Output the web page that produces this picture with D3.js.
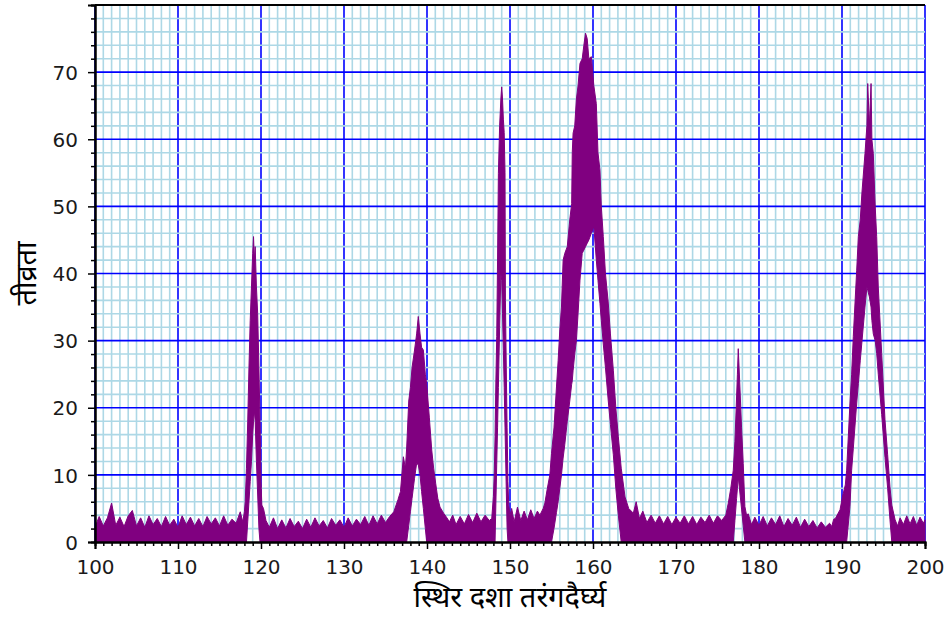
<!DOCTYPE html>
<html>
<head>
<meta charset="utf-8">
<script src="https://cdn.jsdelivr.net/npm/d3@7"></script>
<style>
  body { margin: 0; background: #fff; }
</style>
</head>
<body>
<div id="chart"></div>
<script>
(function(){
  'use strict';

  //Axis ticks and titles
  const xTicks = [100, 110, 120, 130, 140, 150, 160, 170, 180, 190, 200];
  const yTicks = [0, 10, 20, 30, 40, 50, 60, 70];
  const xTitle = "स्थिर दशा तरंगदैर्घ्य";
  const yTitle = "तीव्रता";

  //Baseline noise between the peaks - [wavelength, upper]
  const base1 = [[100,2.2],[100.5,3.8],[101,2.4],[101.5,3.6],[102,5.8],[102.5,2.5],[103,3.7],[103.5,2.3],[104,3.9],[104.5,4.7],[105,2.4],[105.5,3.6],[106,2.2],[106.5,3.9],[107,2.6],[107.5,3.5],[108,2.3],[108.5,3.8],[109,2.5],[109.5,3.4],[110,2.2],[110.5,3.9],[111,2.6],[111.5,3.7],[112,2.4],[112.5,3.5],[113,2.3],[113.5,3.8],[114,2.7],[114.5,3.6],[115,2.4],[115.5,3.9],[116,2.5],[116.5,3.4],[117,2.8],[117.5,4.5],[117.8,3.0]];
  const base2 = [[120.3,5.0],[120.6,3.2],[121,2.2],[121.5,3.6],[122,2.0],[122.5,3.3],[123,2.1],[123.5,3.5],[124,2.3],[124.5,3.1],[125,2.0],[125.5,3.4],[126,2.2],[126.5,3.6],[127,2.4],[127.5,3.2],[128,2.1],[128.5,3.5],[129,2.5],[129.5,3.3],[130,2.2],[130.5,3.6],[131,2.4],[131.5,3.4],[132,2.6],[132.5,3.8],[133,2.5],[133.5,3.9],[134,2.7],[134.5,4.0],[135,2.9]];
  const base3 = [[142.7,3.0],[143.1,4.0],[143.5,2.6],[144,3.8],[144.5,2.7],[145,4.1],[145.5,2.9],[146,4.3],[146.5,3.0],[147,4.0],[147.5,3.2]];
  const base4 = [[150.2,5.0],[150.5,3.0],[150.9,5.2],[151.3,3.2],[151.7,4.6],[152.1,3.3],[152.5,4.8],[152.9,3.5],[153.3,4.6]];
  const base5 = [[165.2,6.0],[165.6,3.5],[166,4.6],[166.5,2.9],[167,4.0],[167.5,2.8],[168,3.9],[168.5,2.7],[169,3.8],[169.5,2.6],[170,3.7],[170.5,2.8],[171,3.9],[171.5,2.7],[172,3.8],[172.5,2.6],[173,3.7],[173.5,2.9],[174,4.0],[174.5,2.8],[175,3.9],[175.5,3.2]];
  const base6 = [[178.7,4.2],[179.1,2.6],[179.5,3.7],[180,2.5],[180.5,3.8],[181,2.4],[181.5,3.6],[182,2.6],[182.5,3.9],[183,2.3],[183.5,3.5],[184,2.5],[184.5,3.7],[185,2.2],[185.5,3.4],[186,2.3],[186.5,3.2],[187,2.1],[187.5,3.0],[188,2.2]];
  const base7 = [[196.7,2.4],[197,3.6],[197.4,2.6],[197.8,3.9],[198.2,2.7],[198.6,3.8],[199,2.5],[199.4,3.7],[199.8,2.8],[200,3.3]];

  //Peaks - [wavelength, upper, lower] (lower = bottom of the noise band)
  const peak119 = [[118.0,4.5,0],[118.1,6,0],[118.25,11,0],[118.4,18,3],[118.55,26,6],[118.7,33,9],[118.85,38,12],[119.0,43,16],[119.1,45.5,18],[119.2,42,19.5],[119.3,44,18],[119.45,38,12],[119.6,34,7],[119.75,26,2],[119.88,18,0],[120.0,9,0],[120.1,5.5,0]];
  const peak139 = [[135.5,3.8,0],[136.0,4.5,0],[136.5,6.3,0],[136.8,7.5,0],[137.15,12.7,0],[137.4,11,0],[137.55,14,0],[137.8,21,2.5],[138.0,23,4.5],[138.2,26,6.5],[138.5,28.6,9.5],[138.75,31,11.7],[138.95,33.6,11.5],[139.16,31,10],[139.35,29,7.5],[139.56,28.6,5],[139.8,25,2],[139.96,23.6,0],[140.28,18.6,0],[140.57,13.7,0],[140.8,11,0],[141.05,8.7,0],[141.3,6.5,0],[141.57,5.2,0],[142.0,4.3,0],[142.4,3.6,0]];
  const peak149 = [[147.8,3.5,0],[148.0,6.8,0],[148.1,10,0],[148.2,15.7,0],[148.3,24,5.8],[148.4,30.6,11.6],[148.5,42,17],[148.6,54.9,23],[148.75,62,32],[148.9,66,40],[149.0,67.8,39],[149.1,66,34],[149.2,63,28.5],[149.3,61,23],[149.4,55,17],[149.45,36,14],[149.55,26,8],[149.65,17,2],[149.75,9,0],[149.85,5.5,0],[150.0,4,0]];
  const peak160 = [[153.6,4,0],[154.0,5,0],[154.2,5.8,0],[154.5,8,0],[154.8,10,0],[155.0,13.2,0],[155.3,17,2],[155.6,23.1,4.4],[155.8,27,6],[156.0,31.6,8],[156.2,35,10],[156.4,42,12.5],[156.6,43,14.5],[156.9,44,18],[157.2,48,21],[157.43,50.4,23.5],[157.5,58,24],[157.6,60.9,25.5],[157.8,62,28],[158.0,66,30],[158.2,68,34],[158.43,71.3,39],[158.7,72,43],[158.9,74,43.5],[159.1,75.8,44],[159.3,75,44.5],[159.5,72,45],[159.8,72.3,46],[160.1,68,47],[160.4,65.3,42],[160.6,58,39],[160.84,55.4,35.5],[161.0,50,33],[161.24,45.5,29.5],[161.5,40,26],[161.84,35.6,21],[162.1,31,17.5],[162.45,25.6,13],[162.75,20,8],[163.05,15.7,4],[163.4,11,0],[163.86,6.7,0],[164.3,5,0],[164.86,4.3,0]];
  const peak177 = [[176.0,4,0],[176.3,5.8,0],[176.6,8,0],[176.9,10.7,0],[177.1,15,3.2],[177.3,21.6,6.5],[177.4,25,8],[177.5,28.8,9.7],[177.6,26,8.5],[177.7,23.1,7.3],[177.9,17,4.9],[178.1,11.7,2.4],[178.3,5.3,0],[178.5,4,0]];
  const peak193 = [[188.5,2.8,0],[188.76,2.3,0],[189.0,3.4,0],[189.2,3.5,0],[189.5,4.2,0],[189.76,4.8,0],[190.1,7,0],[190.4,8.5,0],[190.56,10.7,0],[190.96,20.7,5.3],[191.16,25,10.7],[191.36,30.6,13.9],[191.77,40.5,20.7],[191.97,45.5,23.6],[192.2,48,27],[192.4,52,29.8],[192.77,57.9,35],[193.0,62,38],[193.1,68.3,37.5],[193.3,62,36.5],[193.5,68.3,35],[193.6,60,33],[193.77,57.9,31],[194.0,50,30],[194.18,45.5,28.1],[194.37,38,25],[194.78,28.1,19],[195.18,18.2,12.6],[195.5,13,8],[195.78,8.2,3.3],[196.0,5.5,0],[196.4,3.3,0]];

  //Set dimensions and margins
  let margin = {top: 5, right: 24, bottom: 79, left: 95};
  let width = 949 - margin.left - margin.right;
  let height = 621 - margin.top - margin.bottom;

  let svg = d3.select("#chart").append("svg")
    .attr("width", 949)
    .attr("height", 621)
    .style("display", "block");

  let g = svg.append("g")
    .attr("transform", "translate(" + margin.left + "," + margin.top + ")");

  let x = d3.scaleLinear().domain([100, 200]).range([0, width]);
  let y = d3.scaleLinear().domain([0, 80]).range([height, 0]);

  //Minor positions (1 nm on x, 2 units on y), skipping the major ones
  let xMinor = d3.range(100, 201, 1).filter(function(v) { return v % 10 !== 0; });
  let yMinor = d3.range(0, 81, 2).filter(function(v) { return v % 10 !== 0; });

  //Grid - x major, x minor, y major, y minor (y minor on top breaks the blue verticals)
  function vLines(vals, color, cls) {
    g.append("g").attr("class", cls).selectAll("line")
      .data(vals).enter().append("line")
        .attr("x1", function(d) { return x(d); })
        .attr("x2", function(d) { return x(d); })
        .attr("y1", 0).attr("y2", height)
        .attr("stroke", color)
        .attr("stroke-width", 1.6);
  }
  function hLines(vals, color, cls) {
    g.append("g").attr("class", cls).selectAll("line")
      .data(vals).enter().append("line")
        .attr("y1", function(d) { return y(d); })
        .attr("y2", function(d) { return y(d); })
        .attr("x1", 0).attr("x2", width)
        .attr("stroke", color)
        .attr("stroke-width", 1.6);
  }
  vLines(xTicks, "#0000ff", "x-major");
  vLines(xMinor, "#add8e6", "x-minor");
  hLines(yTicks.filter(function(v) { return v > 0; }), "#0000ff", "y-major");
  hLines(yMinor, "#add8e6", "y-minor");

  //Spectrum as noise band between lower and upper envelope
  let series = [base1, base2, base3, base4, base5, base6, base7]
    .reduce(function(acc, seg) {
      return acc.concat(seg.map(function(d) { return [d[0], d[1], 0]; }));
    }, [])
    .concat(peak119, peak139, peak149, peak160, peak177, peak193)
    .sort(function(a, b) { return a[0] - b[0]; });

  let area = d3.area()
    .x(function(d) { return x(d[0]); })
    .y0(function(d) { return y(d[2]); })
    .y1(function(d) { return y(d[1]); });

  g.append("path")
    .datum(series)
    .attr("d", area)
    .attr("fill", "#800080")
    .attr("stroke", "#800080")
    .attr("stroke-width", 1)
    .attr("stroke-linejoin", "round");

  //Axes
  let tickFont = "'DejaVu Sans', sans-serif";

  let xAxis = g.append("g")
    .attr("transform", "translate(0," + height + ")")
    .call(d3.axisBottom(x).tickValues(xTicks).tickSize(7).tickPadding(11)
      .tickFormat(d3.format("d")));
  let xAxisMinor = g.append("g")
    .attr("transform", "translate(0," + height + ")")
    .call(d3.axisBottom(x).tickValues(xMinor).tickSize(4).tickFormat(""));

  let yAxis = g.append("g")
    .call(d3.axisLeft(y).tickValues(yTicks).tickSize(7).tickPadding(10)
      .tickFormat(d3.format("d")));
  let yAxisMinor = g.append("g")
    .call(d3.axisLeft(y).tickValues(yMinor.concat([80])).tickSize(4).tickFormat(""));

  [xAxis, xAxisMinor, yAxis, yAxisMinor].forEach(function(a) {
    a.select(".domain").attr("stroke", "#000").attr("stroke-width", 2);
    a.selectAll(".tick line").attr("stroke", "#000").attr("stroke-width", 1.5);
    a.selectAll(".tick text")
      .attr("fill", "#1a1a1a")
      .style("font-family", tickFont)
      .style("font-size", "20px");
  });
  yAxis.selectAll(".tick text").attr("dy", "0.36em");

  //Top spine
  g.append("line")
    .attr("x1", 0).attr("x2", width)
    .attr("y1", 0).attr("y2", 0)
    .attr("stroke", "#000")
    .attr("stroke-width", 2);

  //Axis titles
  let titleFont = "'Noto Sans Devanagari', 'Lohit Devanagari', 'Noto Sans', 'DejaVu Sans', sans-serif";

  svg.append("text")
    .text(xTitle)
    .attr("x", margin.left + width / 2)
    .attr("y", 607)
    .attr("text-anchor", "middle")
    .style("font-family", titleFont)
    .style("font-size", "29px")
    .attr("fill", "#000");

  svg.append("text")
    .text(yTitle)
    .attr("transform", "translate(36," + (margin.top + height / 2) + ") rotate(-90)")
    .attr("text-anchor", "middle")
    .style("font-family", titleFont)
    .style("font-size", "29px")
    .attr("fill", "#000");

})();
</script>
</body>
</html>
